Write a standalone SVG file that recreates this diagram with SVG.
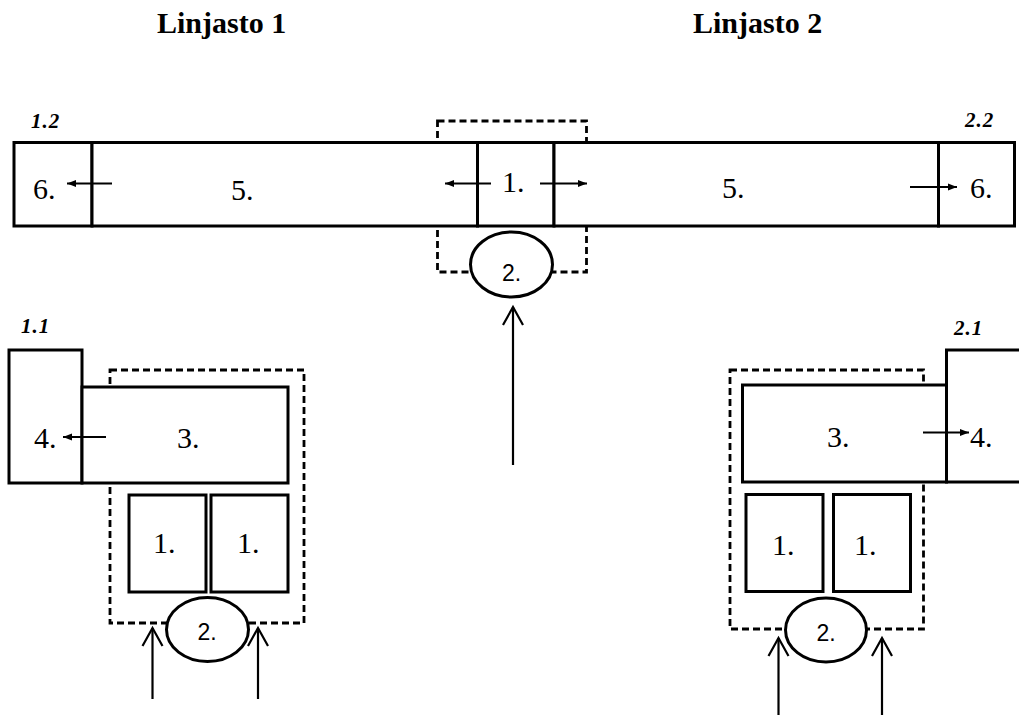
<svg xmlns="http://www.w3.org/2000/svg" width="1019" height="715" viewBox="0 0 1019 715">
<style>
.box{fill:#fff;stroke:#000;stroke-width:3}
.dash{fill:none;stroke:#000;stroke-width:2.8;stroke-dasharray:7 4}
.ell{fill:#fff;stroke:#000;stroke-width:3}
.t{font-family:"Liberation Serif","Times New Roman",serif;font-size:30px;fill:#000}
.s{font-family:"Liberation Sans",Arial,sans-serif;font-size:23px;fill:#000}
.h{font-family:"Liberation Serif","Times New Roman",serif;font-size:30px;font-weight:bold;fill:#000}
.lab{font-family:"Liberation Serif","Times New Roman",serif;font-size:21px;font-weight:bold;font-style:italic;letter-spacing:1px;fill:#000}
.arr{stroke:#000;stroke-width:1.8;fill:none;marker-end:url(#fa)}
.up{stroke:#000;stroke-width:2.2;fill:none;marker-end:url(#oa)}
</style>
<defs>
<marker id="fa" markerUnits="userSpaceOnUse" markerWidth="10" markerHeight="8" refX="9" refY="4" orient="auto">
<path d="M0,0.5 L9,4 L0,7.5 z" fill="#000"/>
</marker>
<marker id="oa" markerUnits="userSpaceOnUse" markerWidth="24" markerHeight="24" refX="21" refY="12" orient="auto">
<path d="M3,2 L21,12 L3,22" fill="none" stroke="#000" stroke-width="2.2"/>
</marker>
</defs>
<rect width="1019" height="715" fill="#fff"/>

<g id="headings">
<text class="h" x="157" y="33">Linjasto 1</text>
<text class="h" x="693" y="33">Linjasto 2</text>
</g>

<g id="top-center">
<rect class="dash" x="437.5" y="121" width="149" height="151"/>
</g>
<g id="n-top-6-left">
<rect class="box" x="14" y="142.5" width="78" height="83.5"/>
<text class="t" x="33" y="199">6.</text>
</g>
<g id="n-top-5-left">
<rect class="box" x="92" y="142.5" width="385.5" height="83.5"/>
<text class="t" x="231" y="200">5.</text>
</g>
<g id="n-top-1">
<rect class="box" x="477.5" y="142.5" width="76.5" height="83.5"/>
<text class="t" x="502" y="192">1.</text>
</g>
<g id="n-top-5-right">
<rect class="box" x="554" y="142.5" width="384.5" height="83.5"/>
<text class="t" x="722" y="198">5.</text>
</g>
<g id="n-top-6-right">
<rect class="box" x="938.5" y="142.5" width="76" height="83.5"/>
<text class="t" x="970" y="198">6.</text>
</g>
<g id="n-top-2">
<ellipse class="ell" cx="511.5" cy="264.5" rx="41" ry="32.5"/>
<text class="s" x="511.5" y="281" text-anchor="middle">2.</text>
</g>
<g id="labels">
<text class="lab" x="31" y="128">1.2</text>
<text class="lab" x="965" y="127">2.2</text>
<text class="lab" x="21" y="333">1.1</text>
<text class="lab" x="954" y="335">2.1</text>
</g>

<g id="left-group">
<rect class="dash" x="110" y="370" width="194" height="253"/>
</g>
<g id="n-l-4">
<rect class="box" x="9" y="350" width="73" height="133"/>
<text class="t" x="34" y="448">4.</text>
</g>
<g id="n-l-3">
<rect class="box" x="82" y="387" width="206" height="96"/>
<text class="t" x="177" y="448">3.</text>
</g>
<g id="n-l-1a">
<rect class="box" x="129" y="495" width="77" height="97"/>
<text class="t" x="153" y="553">1.</text>
</g>
<g id="n-l-1b">
<rect class="box" x="211" y="495" width="77" height="97"/>
<text class="t" x="237" y="553">1.</text>
</g>
<g id="n-l-2">
<ellipse class="ell" cx="207.5" cy="629.5" rx="41" ry="32"/>
<text class="s" x="207" y="640" text-anchor="middle">2.</text>
</g>

<g id="right-group">
<rect class="dash" x="730" y="370" width="193.5" height="259"/>
</g>
<g id="n-r-4">
<rect class="box" x="946.5" y="350" width="80" height="132"/>
<text class="t" x="970" y="447">4.</text>
</g>
<g id="n-r-3">
<rect class="box" x="742.5" y="385" width="204" height="97"/>
<text class="t" x="827" y="447">3.</text>
</g>
<g id="n-r-1a">
<rect class="box" x="746" y="494.5" width="77" height="97"/>
<text class="t" x="772" y="555">1.</text>
</g>
<g id="n-r-1b">
<rect class="box" x="833.5" y="494.5" width="77" height="97"/>
<text class="t" x="854" y="555">1.</text>
</g>
<g id="n-r-2">
<ellipse class="ell" cx="826" cy="630" rx="40.5" ry="32"/>
<text class="s" x="826" y="641" text-anchor="middle">2.</text>
</g>

<g id="connectors">
<line class="arr" x1="112" y1="183.5" x2="67" y2="183.5"/>
<line class="arr" x1="491" y1="183.5" x2="445" y2="183.5"/>
<line class="arr" x1="540" y1="183.5" x2="587" y2="183.5"/>
<line class="arr" x1="910" y1="187" x2="957" y2="187"/>
<line class="arr" x1="106" y1="437" x2="63" y2="437"/>
<line class="arr" x1="923" y1="432.5" x2="969" y2="432.5"/>
<line class="up" x1="513" y1="465" x2="513" y2="307"/>
<line class="up" x1="152.5" y1="699" x2="152.5" y2="628"/>
<line class="up" x1="258" y1="699" x2="258" y2="628"/>
<line class="up" x1="778.5" y1="715" x2="778.5" y2="638"/>
<line class="up" x1="882" y1="715" x2="882" y2="638"/>
</g>
</svg>
